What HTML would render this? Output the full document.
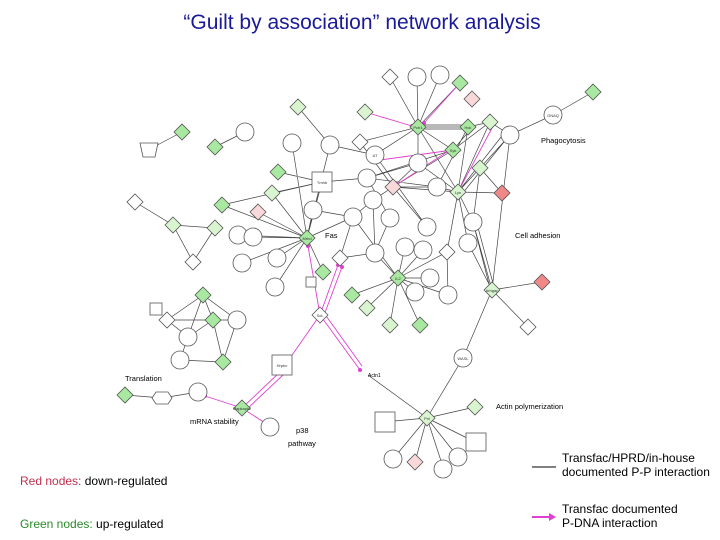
<!DOCTYPE html>
<html><head><meta charset="utf-8"><style>
body{margin:0;background:#fff;}
svg{display:block;font-family:"Liberation Sans",sans-serif;}
.c{fill:#fff;stroke:#555;stroke-width:0.8}
.g{fill:#a8e8a0;stroke:#555;stroke-width:0.8}
.lg{fill:#d8f5d0;stroke:#555;stroke-width:0.8}
.r{fill:#f08888;stroke:#555;stroke-width:0.8}
.p{fill:#f8d8d8;stroke:#555;stroke-width:0.8}
.t{font-size:4px;text-anchor:middle;fill:#333}
.lab{font-size:8px;fill:#000}
</style></head><body>
<svg width="720" height="540" viewBox="0 0 720 540">
<text x="362" y="29" font-size="21" fill="#1a1a99" text-anchor="middle">“Guilt by association” network analysis</text>
<!-- edges -->
<path stroke="#444" stroke-width="0.7" fill="none" d="M390,77L418,127M417,77L418,127M440,75L418,127M460,83L418,127M418,127L468,127L490,122L510,135M553,115L593,92M553,115L510,135M510,135L480,168M298,107L330,145M330,145L375,155M360,142L418,127M375,155L418,127M418,127L453,150M418,127L418,163M418,127L458,192M468,127L458,192M468,127L437,187M490,122L458,192M490,122L453,150M453,150L393,187M453,150L367,178M418,163L393,187M418,163L367,178M418,163L458,192M458,192L502,193M480,168L502,193M480,168L458,192M458,192L393,187M437,187L393,187M458,192L473,222M458,192L468,243M480,168L473,222M393,187L373,200M393,187L427,227M367,178L322,182M322,182L278,172M322,182L272,193M322,182L222,205M322,182L307,238M330,145L307,238M292,143L307,238M272,193L307,238M222,205L307,238M258,212L307,238M313,210L307,238M238,235L307,238M253,237L307,238M242,263L307,238M277,258L307,238M275,287L307,238M307,238L353,217M307,238L323,272M313,210L353,217M373,200L375,253M390,218L375,253M353,217L398,278M375,253L398,278M405,247L398,278M423,250L398,278M447,252L398,278M430,278L398,278M448,295L398,278M415,292L398,278M352,295L398,278M367,308L398,278M390,325L398,278M420,325L398,278M340,258L375,253M447,252L448,295M458,192L447,252M473,222L492,290M468,243L492,290M510,135L492,290M492,290L542,282M492,290L528,327M492,290L463,358M463,358L427,418M368,375L427,418M427,418L475,407M427,418L383,422M427,418L393,459M427,418L415,462M427,418L443,467M427,418L458,457M427,418L477,443M182,132L148,150M215,147L245,132M135,202L173,225L215,228L193,262L173,225M203,295L167,320L188,337L180,360L223,362L237,320L203,295L213,320L223,362M167,320L213,320L237,320M188,337L213,320M203,295L188,337M162,398L198,392M125,395L162,398M375,155L427,227M367,178L390,218M360,142L393,187M420,129L470,129M420,125L466,125M453,150L470,130M458,192L505,132M462,194L508,137M473,222L490,288M476,220L494,287M367,178L437,187M437,187L458,192M353,217L340,258M373,200L353,217"/>
<g stroke="#e040d0" stroke-width="0.9" fill="none">
<path d="M365,112L412,126"/><path d="M460,83L424,123"/>
<path d="M320,315L308,246"/><path d="M320,315L338,265"/><path d="M323,318L342,267"/>
<path d="M320,315L290,358"/><path d="M320,315L360,370"/><path d="M324,313L362,366"/>
<path d="M242,408L280,372"/><path d="M246,410L284,374"/><path d="M242,408L205,396"/><path d="M242,408L268,425"/>
<path d="M458,192L492,128"/><path d="M453,150L380,160"/><path d="M393,187L450,150"/>
</g>
<g fill="#e040d0">
<circle cx="412" cy="126" r="2"/><circle cx="424" cy="123" r="2"/><circle cx="308" cy="246" r="2"/><circle cx="338" cy="265" r="2"/><circle cx="342" cy="267" r="2"/><circle cx="290" cy="358" r="2"/><circle cx="360" cy="370" r="2"/><circle cx="280" cy="372" r="2"/><circle cx="205" cy="396" r="2"/>
</g>
<!-- circles -->
<g class="c">
<circle cx="417" cy="77" r="9"/><circle cx="440" cy="75" r="9"/><circle cx="553" cy="115" r="9"/><circle cx="510" cy="135" r="9"/>
<circle cx="245" cy="132" r="9"/><circle cx="292" cy="143" r="9"/><circle cx="330" cy="145" r="9"/><circle cx="375" cy="155" r="9"/>
<circle cx="418" cy="163" r="9"/><circle cx="437" cy="187" r="9"/><circle cx="367" cy="178" r="9"/><circle cx="313" cy="210" r="9"/>
<circle cx="353" cy="217" r="9"/><circle cx="373" cy="200" r="9"/><circle cx="390" cy="218" r="9"/><circle cx="427" cy="227" r="9"/>
<circle cx="473" cy="222" r="9"/><circle cx="468" cy="243" r="9"/><circle cx="238" cy="235" r="9"/><circle cx="253" cy="237" r="9"/>
<circle cx="242" cy="263" r="9"/><circle cx="277" cy="258" r="9"/><circle cx="275" cy="287" r="9"/><circle cx="375" cy="253" r="9"/>
<circle cx="405" cy="247" r="9"/><circle cx="423" cy="250" r="9"/><circle cx="430" cy="278" r="9"/><circle cx="448" cy="295" r="9"/>
<circle cx="415" cy="292" r="9"/><circle cx="463" cy="358" r="9"/><circle cx="188" cy="337" r="9"/><circle cx="237" cy="320" r="9"/>
<circle cx="180" cy="360" r="9"/><circle cx="198" cy="392" r="9"/><circle cx="270" cy="427" r="9"/><circle cx="393" cy="459" r="9"/>
<circle cx="443" cy="469" r="9"/><circle cx="458" cy="457" r="9"/>
<polygon points="156,392 168,392 172,398 168,404 156,404 152,398"/>
<rect x="312" y="172" width="20" height="20"/><rect x="272" y="355" width="20" height="20"/><rect x="375" y="412" width="20" height="20"/>
<rect x="466" y="433" width="20" height="18"/><rect x="150" y="303" width="12" height="12"/><rect x="306" y="277" width="10" height="10"/>
<polygon points="140,143 158,143 155,157 143,157"/>
</g>
<g class="c">
<path d="M390,69l8,8-8,8-8-8z M360,134l8,8-8,8-8-8z M135,194l8,8-8,8-8-8z M193,254l8,8-8,8-8-8z M340,250l8,8-8,8-8-8z M447,244l8,8-8,8-8-8z M528,319l8,8-8,8-8-8z M320,307l8,8-8,8-8-8z M167,312l8,8-8,8-8-8z"/>
</g>
<g class="g">
<path d="M460,75l8,8-8,8-8-8z M593,84l8,8-8,8-8-8z M418,119l8,8-8,8-8-8z M468,119l8,8-8,8-8-8z M182,124l8,8-8,8-8-8z M215,139l8,8-8,8-8-8z M278,164l8,8-8,8-8-8z M453,142l8,8-8,8-8-8z M222,197l8,8-8,8-8-8z M307,230l8,8-8,8-8-8z M323,264l8,8-8,8-8-8z M352,287l8,8-8,8-8-8z M420,317l8,8-8,8-8-8z M213,312l8,8-8,8-8-8z M223,354l8,8-8,8-8-8z M125,387l8,8-8,8-8-8z M242,400l8,8-8,8-8-8z M398,270l8,8-8,8-8-8z M203,287l8,8-8,8-8-8z"/>
</g>
<g class="lg">
<path d="M298,99l8,8-8,8-8-8z M365,104l8,8-8,8-8-8z M490,114l8,8-8,8-8-8z M480,160l8,8-8,8-8-8z M458,184l8,8-8,8-8-8z M272,185l8,8-8,8-8-8z M173,217l8,8-8,8-8-8z M215,220l8,8-8,8-8-8z M367,300l8,8-8,8-8-8z M390,317l8,8-8,8-8-8z M492,282l8,8-8,8-8-8z M427,410l8,8-8,8-8-8z M475,399l8,8-8,8-8-8z"/>
</g>
<g class="r"><path d="M502,185l8,8-8,8-8-8z M542,274l8,8-8,8-8-8z"/></g>
<g class="p"><path d="M472,91l8,8-8,8-8-8z M393,179l8,8-8,8-8-8z M258,204l8,8-8,8-8-8z M415,454l8,8-8,8-8-8z"/></g>
<g class="t">
<text x="418" y="129">Pctr1</text><text x="468" y="129">Hck</text><text x="375" y="157">AT</text><text x="307" y="240">Mrhd</text><text x="398" y="280">IL2</text><text x="427" y="420">Pnl</text><text x="242" y="410">Mapkapk2</text><text x="320" y="317">SoL</text><text x="282" y="367">Hrpbc</text><text x="322" y="184">Tmhb</text><text x="463" y="360">WASL</text><text x="492" y="292">Arhgap</text><text x="553" y="117">GNAQ</text><text x="458" y="194">Lyn</text><text x="453" y="152">Syk</text>
</g>
<g class="lab">
<text x="541" y="143" font-size="7.5">Phagocytosis</text>
<text x="515" y="238" font-size="7.5">Cell adhesion</text>
<text x="325" y="238" font-size="7.5">Fas</text>
<text x="125" y="381" font-size="7.5">Translation</text>
<text x="496" y="409" font-size="7.5">Actin polymerization</text>
<text x="190" y="424" font-size="7.5">mRNA stability</text>
<text x="296" y="433" font-size="7.5">p38</text>
<text x="288" y="446" font-size="7.5">pathway</text>
<text x="368" y="377" font-size="5">Actn1</text>
</g>
<line x1="532" y1="467" x2="556" y2="467" stroke="#000" stroke-width="1"/>
<text x="562" y="462" font-size="12">Transfac/HPRD/in-house</text>
<text x="562" y="476" font-size="12">documented P-P interaction</text>
<line x1="532" y1="517" x2="550" y2="517" stroke="#e040d0" stroke-width="2"/>
<path d="M549,513L556,517L549,521z" fill="#e040d0"/>
<text x="562" y="513" font-size="12">Transfac documented</text>
<text x="562" y="527" font-size="12">P-DNA interaction</text>
<text x="20" y="485" font-size="12"><tspan fill="#c03050">Red nodes:</tspan> down-regulated</text>
<text x="20" y="528" font-size="12"><tspan fill="#2a8a2a">Green nodes:</tspan> up-regulated</text>
</svg>
</body></html>
